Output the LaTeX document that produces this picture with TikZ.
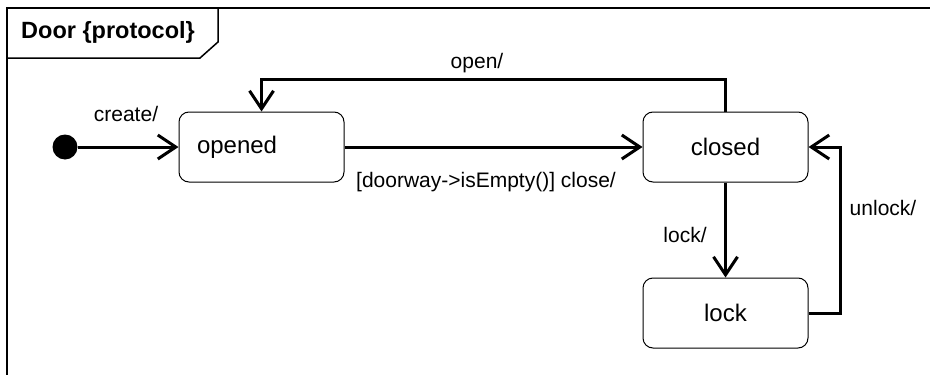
\documentclass[tikz,border=0pt]{standalone}
\usepackage{fontspec}
\setmainfont{Liberation Sans}
\usetikzlibrary{arrows.meta}
\begin{document}
\begin{tikzpicture}[x=1pt,y=-1pt,
  statebox/.style={draw, line width=1pt, rounded corners=10pt, minimum width=165pt, minimum height=70pt, inner sep=0pt, font=\fontsize{24}{28}\selectfont},
  edge/.style={line width=3pt, -{Straight Barb[length=18pt,width=24pt,line width=3pt]}},
  lbl/.style={inner sep=0pt, font=\fontsize{21}{25}\selectfont}]
\useasboundingbox (0,0) rectangle (930,375);
\begin{scope}
\clip (0,0) rectangle (930,375);
\draw[line width=2pt] (7,8) rectangle (945,390);
\end{scope}
\draw[line width=1.5pt] (7,58) -- (200,58) -- (218,42) -- (218,8);
\node[anchor=west, inner sep=0pt, font=\bfseries\fontsize{23.5}{28}\selectfont] (title) at (21,32) {Door \{protocol\}};
\node[circle, fill, minimum size=25pt, inner sep=0pt] (init) at (65,147) {};
\node[statebox, text width=129pt, align=left, inner xsep=18pt] (opened) at (261.5,147) {opened};
\node[statebox] (closed) at (725.5,147) {closed};
\node[statebox] (lock) at (725.5,313) {lock};
\coordinate (toprow) at (0,79);
\coordinate (rightcol) at (840,0);
\draw[edge] (init) -- (opened);
\draw[edge] (opened) -- (closed);
\draw[edge] (closed.north) -- (closed.north |- toprow) -- (opened.north |- toprow) -- (opened.north);
\draw[edge] (closed) -- (lock);
\draw[edge] (lock.east) -- (lock.east -| rightcol) -- (closed.east -| rightcol) -- (closed.east);
\node[lbl] (lcreate) at (126,114) {create/};
\node[lbl] (lclose) at (486,182) {[doorway->isEmpty()] close/};
\node[lbl] (lopen) at (477,63) {open/};
\node[lbl] (llock) at (685,235) {lock/};
\node[lbl] (lunlock) at (883,208) {unlock/};
\end{tikzpicture}
\end{document}
